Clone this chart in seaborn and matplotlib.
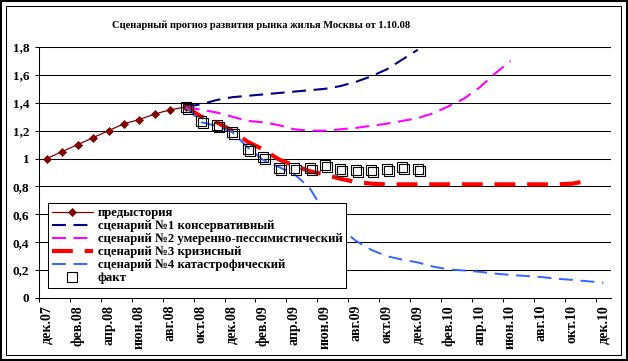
import numpy as np
import pandas as pd
import matplotlib
matplotlib.use("Agg")
import matplotlib.pyplot as plt
import matplotlib.transforms as mtransforms
from matplotlib.patches import Rectangle
import seaborn as sns

# months on the category axis, дек.07 .. дек.10
month_names = ["янв", "фев", "мар", "апр", "май", "июн",
               "июл", "авг", "сен", "окт", "ноя", "дек"]
months = ["дек.07"] + [f"{m}.{y}" for y in ("08", "09", "10") for m in month_names]

# history starts at дек.07, scenarios and facts at сен.08
history_start = 0
history = [1.00, 1.05, 1.10, 1.15, 1.20, 1.25, 1.28, 1.32, 1.35, 1.37]

scen_start = 9
scen1 = [1.37, 1.39, 1.42, 1.44, 1.45, 1.46, 1.47, 1.48, 1.49, 1.50, 1.52,
         1.55, 1.59, 1.64, 1.71, 1.78]
scen2 = [1.37, 1.35, 1.33, 1.30, 1.27, 1.26, 1.24, 1.21, 1.20, 1.20, 1.21,
         1.22, 1.235, 1.25, 1.27, 1.29, 1.325, 1.375, 1.43, 1.51, 1.61, 1.70]
scen3 = [1.37, 1.30, 1.26, 1.20, 1.12, 1.065, 0.995, 0.95, 0.91, 0.885, 0.855,
         0.832, 0.82, 0.815, 0.815, 0.815, 0.815, 0.815, 0.815, 0.815, 0.815,
         0.815, 0.815, 0.815, 0.815, 0.82, 0.84]
scen4 = [1.37, 1.26, 1.235, 1.19, 1.08, 0.99, 0.94, 0.89, 0.79, 0.61, 0.50,
         0.41, 0.345, 0.30, 0.275, 0.255, 0.225, 0.205, 0.197, 0.188, 0.175,
         0.165, 0.158, 0.15, 0.138, 0.13, 0.12, 0.11]
fact = [1.37, 1.27, 1.24, 1.19, 1.07, 1.01, 0.935, 0.935, 0.935, 0.955, 0.925,
        0.918, 0.915, 0.927, 0.937, 0.927]

yticks = [0, 0.2, 0.4, 0.6, 0.8, 1.0, 1.2, 1.4, 1.6, 1.8]
ytick_labels = ["0", "0,2", "0,4", "0,6", "0,8", "1", "1,2", "1,4", "1,6", "1,8"]

title = "Сценарный прогноз развития рынка жилья Москвы от 1.10.08"
names = ["предыстория",
         "сценарий №1 консервативный",
         "сценарий №2 умеренно-пессимистический",
         "сценарий №3 кризисный",
         "сценарий №4 катастрофический",
         "факт"]


def frame(values, start):
    return pd.DataFrame({"month": np.arange(start, start + len(values)),
                         "value": values})


sns.set_theme(style="white")
plt.rcParams["font.family"] = ["Liberation Serif", "DejaVu Serif"]
plt.rcParams["font.weight"] = "bold"
plt.rcParams["lines.scale_dashes"] = False
for k in ("text.color", "xtick.color", "ytick.color", "axes.labelcolor"):
    plt.rcParams[k] = "black"

W, H = 628, 361
fig = plt.figure(figsize=(W / 100, H / 100), dpi=100)
ax = fig.add_axes([39 / W, 1 - 298 / H, 572 / W, 251 / H])

sns.lineplot(data=frame(history, history_start), x="month", y="value",
             color="#800000", linewidth=0.9, marker="D", markersize=4.2,
             markeredgecolor="#800000", markeredgewidth=0.5,
             label=names[0], errorbar=None, ax=ax)

scen_styles = [
    (scen1, "#000080", 1.5, (0, (10, 5.5))),
    (scen2, "#FF00FF", 1.5, (0, (10, 5.5))),
    (scen3, "#FF0000", 3.0, (0, (15, 8.5))),
    (scen4, "#3366FF", 1.4, (0, (10, 5.5))),
]
for (vals, col, lw, ls), name in zip(scen_styles, names[1:5]):
    sns.lineplot(data=frame(vals, scen_start), x="month", y="value",
                 color=col, linewidth=lw, linestyle=ls,
                 label=name, errorbar=None, ax=ax)

# fact squares look doubled in the original, second copy shifted a bit
fact_df = frame(fact, scen_start)
sns.lineplot(data=fact_df, x="month", y="value", linestyle="none",
             marker="s", markersize=6.5, markerfacecolor="none",
             markeredgecolor="black", markeredgewidth=0.8,
             label=names[5], errorbar=None, ax=ax)
shift = mtransforms.offset_copy(ax.transData, fig=fig, x=2, y=-2, units="dots")
sns.lineplot(data=fact_df, x="month", y="value", linestyle="none",
             marker="s", markersize=6.5, markerfacecolor="none",
             markeredgecolor="black", markeredgewidth=0.8,
             label="_nolegend_", errorbar=None, ax=ax, transform=shift)

ax.set_xlim(-0.5, 36.5)
ax.set_ylim(0, 1.8)
ax.set_xlabel("")
ax.set_ylabel("")
ax.set_yticks(yticks)
ax.set_yticklabels(ytick_labels)
ax.set_xticks(np.arange(0, 37, 2))
ax.set_xticklabels(months[::2], rotation=90)
ax.set_xticks(np.arange(-0.5, 36, 2), minor=True)
ax.tick_params(axis="x", which="major", length=0, pad=5, labelsize=10)
ax.tick_params(axis="x", which="minor", length=3, width=0.75, color="black",
               direction="out", bottom=True)
ax.tick_params(axis="y", length=3, width=0.75, color="black", direction="out",
               pad=4, labelsize=9.5, left=True)
ax.yaxis.grid(True, color="black", linewidth=0.75)
ax.set_axisbelow(True)
for s in ("top", "right"):
    ax.spines[s].set_visible(False)
for s in ("left", "bottom"):
    ax.spines[s].set_color("black")
    ax.spines[s].set_linewidth(0.75)

leg = ax.legend(loc="lower left", bbox_to_anchor=(9 / 572, 10 / 251),
                borderaxespad=0, frameon=True, fancybox=False, framealpha=1,
                edgecolor="black", fontsize=9.2, handlelength=3.2,
                handletextpad=0.4, labelspacing=0.08, borderpad=0.3)
leg.get_frame().set_linewidth(0.75)

fig.text(261 / W, 1 - 25.7 / H, title, ha="center", va="center",
         fontsize=7.6, fontweight="bold")

# double frame around the chart
fig.patches.append(Rectangle((1 / W, 1 / H), (W - 2) / W, (H - 2) / H,
                             transform=fig.transFigure, fill=False,
                             edgecolor="black", linewidth=1.5))
fig.patches.append(Rectangle((6 / W, 6 / H), 615 / W, 349 / H,
                             transform=fig.transFigure, fill=False,
                             edgecolor="black", linewidth=0.75))

fig.savefig("out.png", dpi=100)
